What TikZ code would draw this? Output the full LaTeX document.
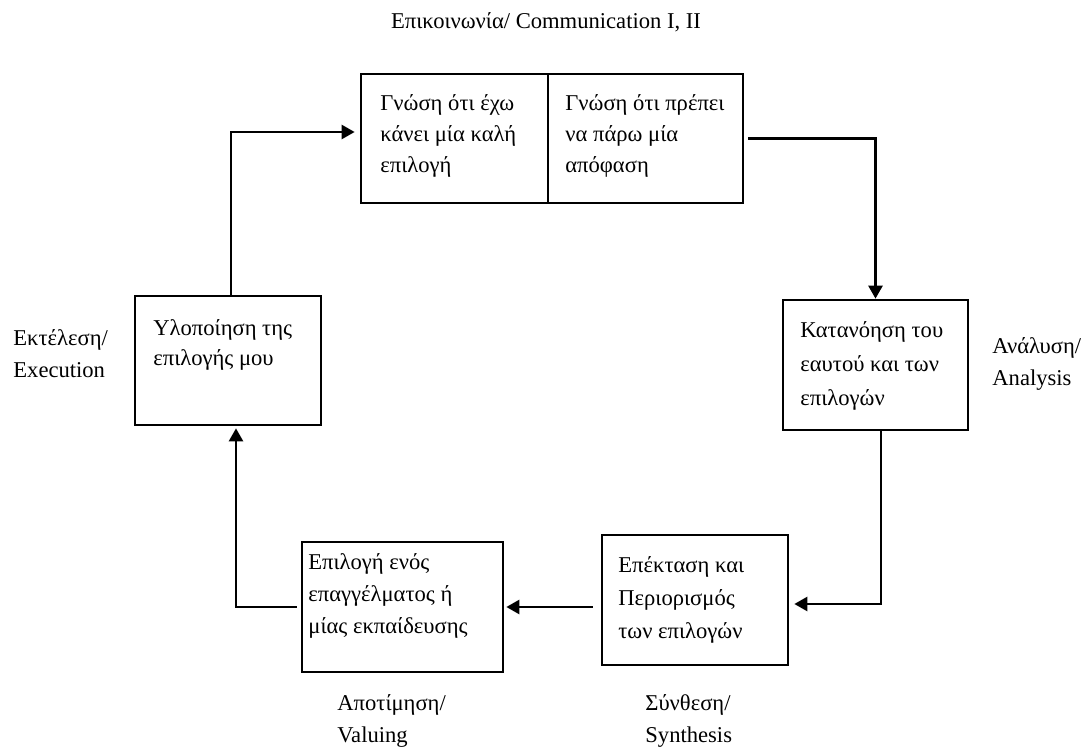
\documentclass[tikz,border=0pt]{standalone}
\usepackage{fontspec}
\setmainfont{Liberation Serif}
\usetikzlibrary{arrows.meta,calc}
\begin{document}
\begin{tikzpicture}[x=0.5pt,y=-0.5pt,
  box/.style={draw,line width=1.35pt,rectangle,inner sep=0pt},
  txt/.style={inner sep=0pt,align=left,anchor=base west,font=\fontsize{11.3}{16}\selectfont},
  lbl/.style={txt},
  conn/.style={draw,line width=1.3pt,-{Triangle[length=6.5pt,width=7pt]}}
]
\useasboundingbox (0,0) rectangle (1088,755);
% boxes
\node[box,minimum width=93.5pt,minimum height=64.5pt] (tl) at (454.5,138.5) {};
\node[box,minimum width=97.5pt,minimum height=64.5pt] (tr) at (645.5,138.5) {};
\node[box,minimum width=93pt,minimum height=64.5pt] (exec) at (228,360.5) {};
\node[box,minimum width=92.5pt,minimum height=65pt] (anal) at (875.5,365) {};
\node[box,minimum width=93pt,minimum height=65pt] (synth) at (695,600) {};
\node[box,minimum width=100.5pt,minimum height=65pt] (val) at (402.5,607) {};
% box texts
\node[txt,font=\fontsize{11.3}{15.5}\selectfont] (tlt) at (380,172) {Γνώση ότι έχω\\κάνει μία καλή\\επιλογή};
\node[txt,font=\fontsize{11.3}{15.5}\selectfont] (trt) at (565,172) {Γνώση ότι πρέπει\\να πάρω μία\\απόφαση};
\node[txt,font=\fontsize{11.3}{15}\selectfont] (exect) at (153,365) {Υλοποίηση της\\επιλογής μου};
\node[txt,font=\fontsize{11.3}{17}\selectfont] (analt) at (800,405) {Κατανόηση του\\εαυτού και των\\επιλογών};
\node[txt,font=\fontsize{11.3}{16.5}\selectfont] (syntht) at (618,638) {Επέκταση και\\Περιορισμός\\των επιλογών};
\node[txt] (valt) at (308,633) {Επιλογή ενός\\επαγγέλματος ή\\μίας εκπαίδευσης};
% labels
\node[lbl,anchor=base] (title) at (546,28) {Επικοινωνία/ Communication I, II};
\node[lbl] (execl) at (13,377) {Εκτέλεση/\\Execution};
\node[lbl] (anall) at (992,385) {Ανάλυση/\\Analysis};
\node[lbl] (vall) at (337,742) {Αποτίμηση/\\Valuing};
\node[lbl] (synthl) at (645,742) {Σύνθεση/\\Synthesis};
% connectors
\draw[conn,shorten >=2.5pt] ([xshift=1.5pt]exec.north) |- ([yshift=3.25pt]tl.west);
\draw[conn,shorten <=2pt] (tr.east) -| (anal.north);
\draw[conn,shorten >=2.5pt] ([xshift=2.75pt]anal.south) |- ([yshift=-2pt]synth.east);
\draw[conn,shorten <=4pt,shorten >=1pt] (synth.west |- val.east) -- (val.east);
\draw[conn,shorten <=2pt,shorten >=1pt] (val.west) -| ([xshift=4pt]exec.south);
\end{tikzpicture}
\end{document}
